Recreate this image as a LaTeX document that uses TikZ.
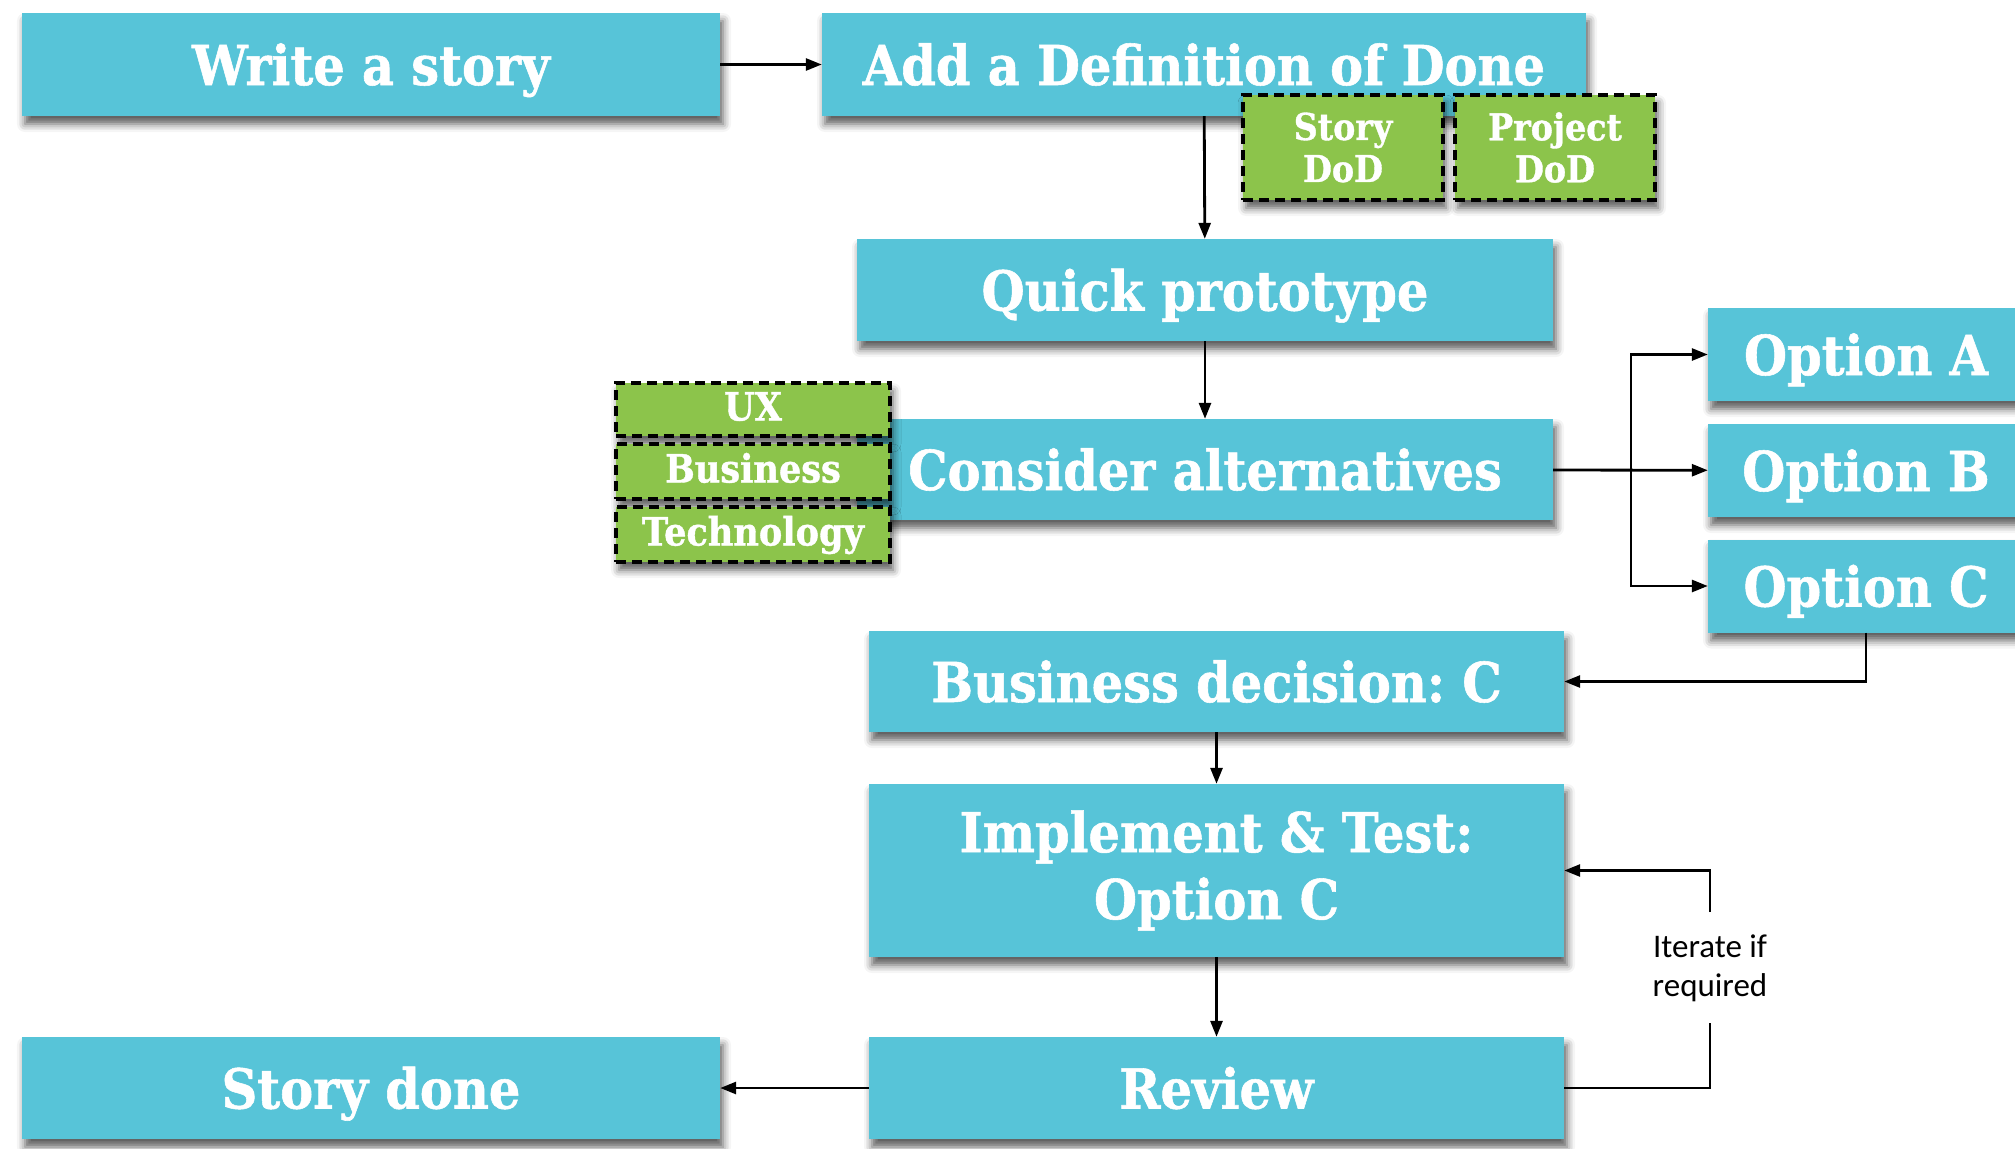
\documentclass[tikz,border=0pt]{standalone}
\usepackage{fontspec}
\usetikzlibrary{arrows.meta,shadows.blur}
\newfontfamily\slab{DejaVu Serif Bold}[FakeStretch=0.9,FakeBold=1]
\newfontfamily\calib{Carlito}
\definecolor{boxblue}{HTML}{57C4D8}
\definecolor{boxgreen}{HTML}{8CC44B}
\frenchspacing

\begin{document}
\begin{tikzpicture}[x=1pt,y=-1pt,
  shade/.style={blur shadow={shadow xshift=3pt,shadow yshift=-8pt,shadow blur radius=8pt,shadow opacity=65}},
  blue box/.style={shade,fill=boxblue,inner sep=0pt,text=white,align=center,text height=41pt,text depth=0pt,
    font=\slab\fontsize{55}{67}\selectfont},
  green box/.style={shade,fill=boxgreen,draw=black,line width=3.5pt,dash pattern=on 10pt off 6pt,
    inner sep=0pt,text=white,align=center,font=\slab\fontsize{37}{42}\selectfont},
  strip/.style={green box,minimum width=274pt,text height=22pt,text depth=0pt,font=\slab\fontsize{39}{42}\selectfont},
  arr/.style={line width=2.8pt,-{Triangle[length=16pt,width=12pt]}}]

\clip (0,0) rectangle (2015,1148);

\begin{scope}
\coordinate (split) at (1631,471);
\coordinate (loopt) at (1710,912);
\coordinate (loopb) at (1710,1023);

\node[blue box,minimum width=698pt,minimum height=103pt] (story) at (371,64.5) {Write a story};
\node[blue box,minimum width=764pt,minimum height=103pt] (def) at (1204,64.5) {Add a Definition of Done};
\node[green box,minimum width=200pt,minimum height=105pt] (sdod) at (1343,147.5) {Story\\DoD};
\node[green box,minimum width=200pt,minimum height=105pt] (pdod) at (1555,147.5) {Project\\DoD};

\node[blue box,minimum width=696pt,minimum height=102pt] (proto) at (1205,290) {Quick prototype};
\node[blue box,minimum width=696pt,minimum height=101pt] (alt) at (1205,469.5) {Consider alternatives};
\node[strip,minimum height=53pt] (ux) at (753,409.5) {UX};
\node[strip,minimum height=55pt] (bus) at (753,471.5) {Business};
\node[strip,minimum height=55pt] (tech) at (753,534.5) {Technology};

\node[blue box,minimum width=316pt,minimum height=93pt] (optA) at (1866,354.5) {Option A};
\node[blue box,minimum width=316pt,minimum height=93pt] (optB) at (1866,470.5) {Option B};
\node[blue box,minimum width=316pt,minimum height=93pt] (optC) at (1866,586) {Option C};

\node[blue box,minimum width=695pt,minimum height=101pt] (decision) at (1216.5,681.5) {Business decision: C};
\node[blue box,text height=,text depth=,minimum width=695pt,minimum height=173pt] (impl) at (1216.5,870.5) {Implement \& Test:\\Option C};
\node[blue box,minimum width=695pt,minimum height=102pt] (review) at (1216.5,1088) {Review};
\node[blue box,minimum width=698pt,minimum height=102pt] (done) at (371,1088) {Story done};

\node[font=\calib\fontsize{33}{39}\selectfont,align=center] (iter) at (1710,968) {Iterate if\\required};

\draw[arr] (story) -- (def);
\draw[arr] (def) -- (proto);
\draw[arr] (proto) -- (alt);
\draw[arr] (alt) -- (optB);
\draw[arr] (split) |- (optA);
\draw[arr] (split) |- (optC);
\draw[arr] (optC) |- (decision);
\draw[arr] (decision) -- (impl);
\draw[arr] (impl) -- (review);
\draw[arr] (review) -- (done);
\draw[line width=2.8pt] (review) -| (loopb);
\draw[arr] (loopt) |- (impl);
\end{scope}

\end{tikzpicture}
\end{document}
